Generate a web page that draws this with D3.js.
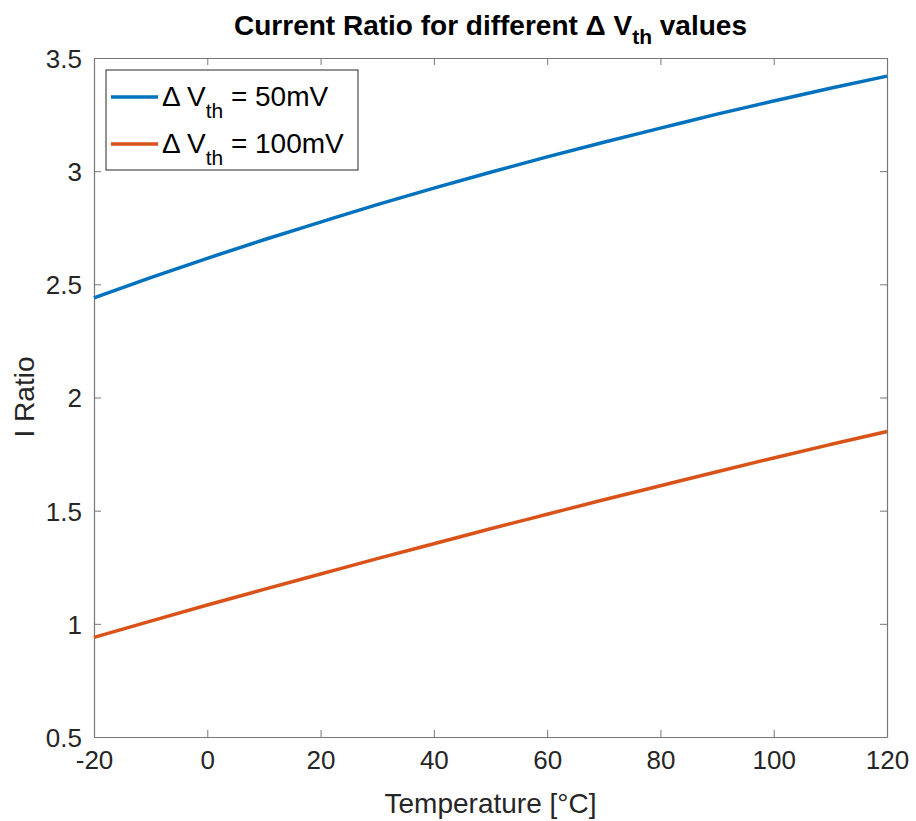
<!DOCTYPE html>
<html><head><meta charset="utf-8">
<script src="https://cdn.jsdelivr.net/npm/d3@7"></script>
<style>body{margin:0;background:#fff;} svg{display:block;}</style>
</head><body>
<svg id="chart" width="916" height="821"></svg>
<script>
const temps = [-20,-10,0,10,20,30,40,50,60,70,80,90,100,110,120];
const ratio50 = [2.44,2.53,2.615,2.697,2.775,2.852,2.925,2.995,3.063,3.128,3.19,3.252,3.31,3.366,3.42];
const ratio100 = [0.94,1.012,1.083,1.152,1.22,1.288,1.354,1.42,1.484,1.548,1.61,1.672,1.733,1.792,1.85];
const xTicks = [-20,0,20,40,60,80,100,120];
const yTicks = [0.5,1,1.5,2,2.5,3,3.5];
const seriesNames = ["50mV","100mV"];
const colors = ["#0072BD","#D95319"];

const svg = d3.select("#chart");
const L=94, R=887, T=58, B=737;
const x = d3.scaleLinear().domain([-20,120]).range([L,R]);
const y = d3.scaleLinear().domain([0.5,3.5]).range([B,T]);
const font = "'Liberation Sans', Arial, sans-serif";
const axisCol = "#262626";

const tl = 7;
const gx = svg.append("g").attr("transform",`translate(0,${B})`)
  .call(d3.axisBottom(x).tickValues(xTicks).tickSizeInner(-tl).tickSizeOuter(0).tickPadding(14).tickFormat(d=>String(d)));
const gxt = svg.append("g").attr("transform",`translate(0,${T})`)
  .call(d3.axisTop(x).tickValues(xTicks).tickSizeInner(-tl).tickSizeOuter(0).tickFormat(""));
const gy = svg.append("g").attr("transform",`translate(${L},0)`)
  .call(d3.axisLeft(y).tickValues(yTicks).tickSizeInner(-tl).tickSizeOuter(0).tickPadding(12).tickFormat(d=>String(d)));
const gyr = svg.append("g").attr("transform",`translate(${R},0)`)
  .call(d3.axisRight(y).tickValues(yTicks).tickSizeInner(-tl).tickSizeOuter(0).tickFormat(""));
[gx,gxt,gy,gyr].forEach(g=>{
  g.select(".domain").attr("stroke","#777").attr("stroke-width",1.2);
  g.selectAll(".tick line").attr("stroke","#777").attr("stroke-width",1);
  g.selectAll(".tick text").attr("fill",axisCol).attr("font-family",font).attr("font-size",26);
});
gx.selectAll(".tick text").attr("dy","0.71em");
gy.selectAll(".tick text").attr("dy","0.36em");

const line = d3.line().x((d,i)=>x(temps[i])).y(d=>y(d)).curve(d3.curveMonotoneX);
[ratio50, ratio100].forEach((s,i)=>{
  svg.append("path").attr("d",line(s)).attr("fill","none")
    .attr("stroke",colors[i]).attr("stroke-width",3.5);
});

const title = svg.append("text").attr("x",(L+R)/2).attr("y",35).attr("text-anchor","middle")
  .attr("font-family",font).attr("font-weight","bold").attr("font-size",28).attr("fill","#000");
title.append("tspan").text("Current Ratio for different \u0394 V");
title.append("tspan").text("th").attr("font-size",21).attr("dy",9);
title.append("tspan").text(" values").attr("dy",-9);

svg.append("text").attr("x",(L+R)/2).attr("y",813).attr("text-anchor","middle")
  .attr("font-family",font).attr("font-size",28).attr("fill",axisCol).text("Temperature [\u00B0C]");
svg.append("text").attr("transform",`translate(34,397) rotate(-90)`).attr("text-anchor","middle")
  .attr("font-family",font).attr("font-size",28).attr("fill",axisCol).text("I Ratio");

const lg = svg.append("g");
lg.append("rect").attr("x",106).attr("y",70).attr("width",252).attr("height",100)
  .attr("fill","#fff").attr("stroke","#262626").attr("stroke-width",1);
const ly = [97,144];
seriesNames.forEach((n,i)=>{
  lg.append("line").attr("x1",111).attr("x2",158).attr("y1",ly[i]).attr("y2",ly[i])
    .attr("stroke",colors[i]).attr("stroke-width",3.5);
  const t = lg.append("text").attr("x",162).attr("y",ly[i]+9).attr("font-family",font)
    .attr("font-size",28).attr("fill","#000");
  t.append("tspan").text("\u0394 V");
  t.append("tspan").text("th").attr("font-size",21).attr("dy",12);
  t.append("tspan").text(" = " + n).attr("dy",-12);
});
</script>
</body></html>
